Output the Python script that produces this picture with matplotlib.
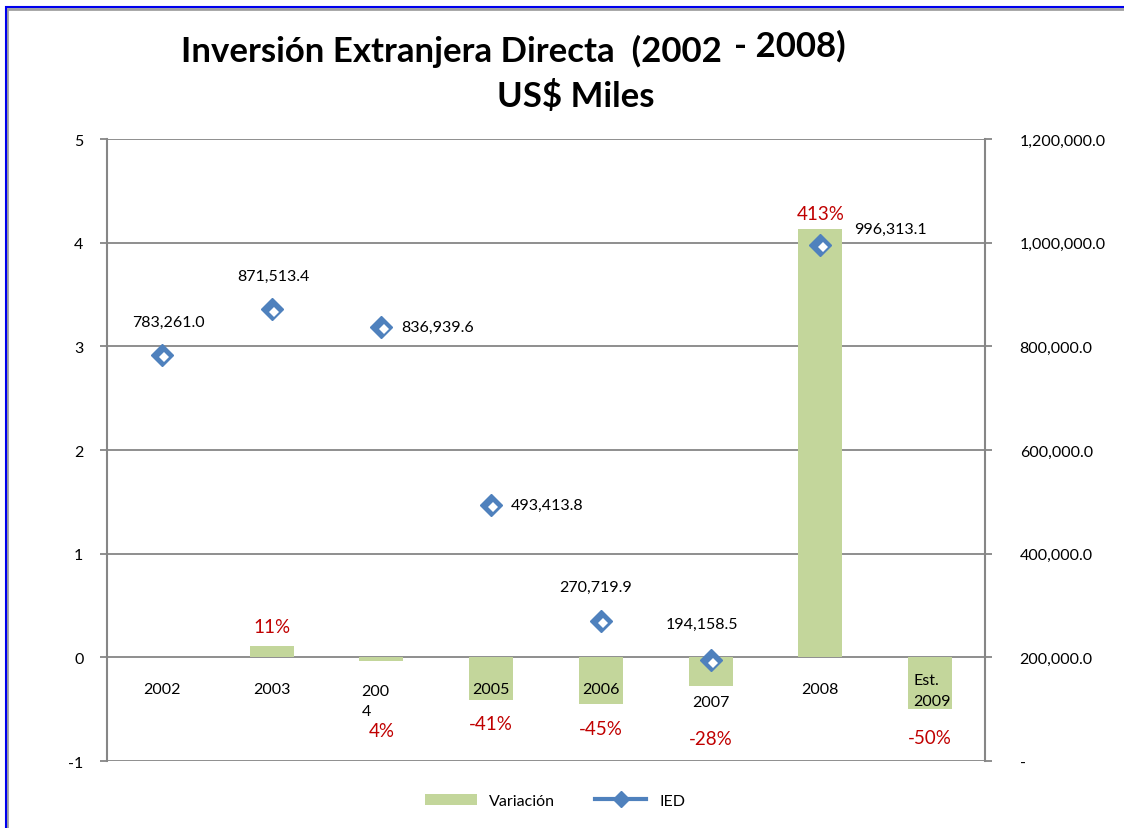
import matplotlib.pyplot as plt
from matplotlib.lines import Line2D
from matplotlib.patches import Patch, Rectangle
from matplotlib.transforms import offset_copy
import numpy as np

plt.rcParams['font.family'] = ['Lato', 'DejaVu Sans']
plt.rcParams['axes.unicode_minus'] = False

# data
years = ["2002", "2003", "200\n4", "2005", "2006", "2007", "2008", "Est.\n2009"]
variacion = [np.nan, 0.11, -0.04, -0.41, -0.45, -0.28, 4.13, -0.50]
var_labels = ["", "11%", "4%", "-41%", "-45%", "-28%", "413%", "-50%"]
ied = [783261.0, 871513.4, 836939.6, 493413.8, 270719.9, 194158.5, 996313.1, np.nan]
ied_labels = ["783,261.0", "871,513.4", "836,939.6", "493,413.8", "270,719.9", "194,158.5", "996,313.1", ""]

green = "#C3D69B"
blue = "#4F81BD"
red = "#C00000"
grid = "#868686"

fig = plt.figure(figsize=(11.24, 8.29), dpi=100)
ax = fig.add_axes([0.0952, 0.0808, 0.7811, 0.7503])
ax2 = ax.twinx()

x = np.arange(len(years))
ax.bar(x, variacion, width=0.4, color=green, zorder=2)
ax.set_xlim(-0.5, len(years) - 0.5)
ax.set_ylim(-1, 5)
ax.set_yticks(range(-1, 6))
for yv in range(-1, 6):
    ax.axhline(yv, color=grid, lw=1.3, zorder=1)
ax.set_xticks([])
for s in ["top", "bottom", "right"]:
    ax.spines[s].set_visible(False)
ax.spines["left"].set_color(grid)
ax.spines["left"].set_linewidth(1.5)
ax.tick_params(axis="y", length=5, color=grid, width=1.3, labelsize=11.5, pad=12)

# IED markers on secondary axis: blue diamond with a white inner patch (lower right)
ax2.plot(x, ied, linestyle="none", marker="D", markersize=11.5, color=blue,
         markeredgecolor=blue, zorder=5)
shifted = offset_copy(ax2.transData, fig=fig, x=1.6, y=-1.6, units="points")
ax2.plot(x, ied, linestyle="none", marker="D", markersize=5.5, color="white",
         markeredgewidth=0, transform=shifted, zorder=6)
ax2.set_ylim(0, 1200000)
ax2.set_yticks(np.arange(0, 1200001, 200000))
ax2.set_yticklabels(["-"] + [f"{v:,.1f}" for v in np.arange(200000, 1200001, 200000)])
for s in ["top", "bottom", "left"]:
    ax2.spines[s].set_visible(False)
ax2.spines["right"].set_color(grid)
ax2.spines["right"].set_linewidth(1.5)
ax2.tick_params(axis="y", length=5, color=grid, width=1.3, labelsize=11.5, pad=20)
ax2.set_zorder(ax.get_zorder() + 1)
ax2.patch.set_visible(False)

# IED value labels (offset in points, alignment)
ied_offsets = [(5, 24, "center"), (1, 24, "center"), (14, 0, "left"), (14, 0, "left"),
               (-4, 24, "center"), (-6, 26, "center"), (24, 11, "left")]
for i, (dx, dy, ha) in enumerate(ied_offsets):
    ax2.annotate(ied_labels[i], (x[i], ied[i]), xytext=(dx, dy), textcoords="offset points",
                 ha=ha, va="center", fontsize=11.5)

# category labels sitting below the zero line
cat_pos = [(0, -0.31, "center"), (1, -0.31, "center"), (1.82, -0.42, "left"), (3, -0.31, "center"),
           (4, -0.31, "center"), (5, -0.43, "center"), (6, -0.31, "center"), (6.85, -0.32, "left")]
for lab, (xp, yp, ha) in zip(years, cat_pos):
    ax.text(xp, yp, lab, ha=ha, va="center", fontsize=11.5, linespacing=1.6, zorder=6)

# variation labels in red
var_pos = [None, (1, 0.30), (2, -0.71), (3, -0.64), (4, -0.69), (5, -0.78), (6, 4.28), (7, -0.77)]
for lab, p in zip(var_labels, var_pos):
    if p is None:
        continue
    ax.text(p[0], p[1], lab, ha="center", va="center", fontsize=13.5, color=red, zorder=6)

# title
fig.text(0.402, 0.938, "Inversión Extranjera Directa  (2002", ha="center", va="center",
         fontsize=25, fontweight="bold")
fig.text(0.703, 0.944, "- 2008)", ha="center", va="center", fontsize=25, fontweight="bold")
fig.text(0.512, 0.884, "US$ Miles", ha="center", va="center", fontsize=25, fontweight="bold")

# legend
handles = [Patch(facecolor=green, edgecolor="none"),
           Line2D([0], [0], color=blue, lw=3, marker="D", markersize=8)]
fig.legend(handles, ["Variación", "IED"], loc="center", bbox_to_anchor=(0.494, 0.033),
           ncol=2, frameon=False, fontsize=11.5, handlelength=3.2, columnspacing=2.5)

# outer chart frame
fig.patches.append(Rectangle((0.0062, -0.01), 1.1, 0.998, transform=fig.transFigure,
                             fill=False, edgecolor="#A0A0A0", lw=2))
fig.patches.append(Rectangle((0.005, -0.01), 1.1, 1.0, transform=fig.transFigure,
                             fill=False, edgecolor="#0000EE", lw=1.5))

fig.savefig("out.png", dpi=100)
